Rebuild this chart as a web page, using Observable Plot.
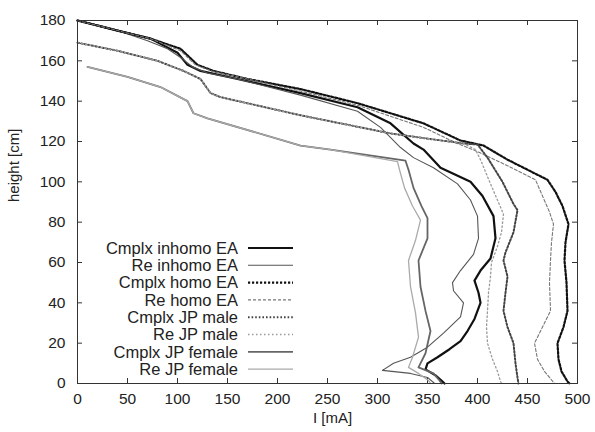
<!DOCTYPE html>
<html><head><meta charset="utf-8">
<script src="https://cdn.jsdelivr.net/npm/d3@7"></script>
<script src="https://cdn.jsdelivr.net/npm/@observablehq/plot@0.6"></script>
<style>body{margin:0;background:#fff} #chart svg{font-family:"Liberation Sans",Arial,sans-serif}</style>
</head><body><div id="chart"></div>
<script>
const xTicks = [0, 50, 100, 150, 200, 250, 300, 350, 400, 450, 500];
const yTicks = [0, 20, 40, 60, 80, 100, 120, 140, 160, 180];
const seriesNames = ["Cmplx inhomo EA", "Re inhomo EA", "Cmplx homo EA", "Re homo EA",
  "Cmplx JP male", "Re JP male", "Cmplx JP female", "Re JP female"];

// [I (mA), height (cm)]
const cmplxInhomoEA = [[0,180],[40,175],[73,171],[100,164],[110,158],[123,155],[160,151],[223,144],[280,137],[313,129],[336,119],[346,116],[363,107],[393,100],[405,93],[416,83],[418,72],[413,62],[403,56],[397,51],[401,45],[403,40],[397,32],[390,26],[383,21],[372,17],[360,13],[350,10],[348,7],[358,4],[365,1],[367,0]];
const reInhomoEA = [[0,180],[40,175],[70,170],[90,166],[105,161],[115,157],[130,154],[160,151],[223,143],[280,135],[303,127],[323,117],[336,112],[356,107],[380,99],[393,91],[400,83],[401,72],[396,64],[383,56],[375,50],[376,46],[386,40],[383,33],[366,25],[350,18],[333,13],[316,10],[305,6.5],[333,5],[350,3],[356,0.5],[357,0]];
const cmplxHomoEA = [[0,180],[40,175],[73,171],[103,166],[120,158],[136,155],[170,151],[223,146],[280,139],[346,129],[383,120.5],[406,118],[430,111],[450,106],[470,101],[478,95],[485,88],[491,79],[488,70],[487,61],[489,50],[490,36],[486,28],[480,20],[481,12],[484,6],[490,1],[492,0]];
const reHomoEA = [[0,180],[40,175],[73,171],[103,165],[118,158],[134,155],[170,151],[223,145],[280,138],[346,127],[380,119],[400,115],[430,108],[458,101],[465,93],[472,85],[476,79],[474,70],[473,61],[472,50],[473,36],[465,28],[457,20],[460,12],[467,6],[477,0]];
const cmplxJPmale = [[0,169],[40,165],[80,160],[106,155],[123,151],[133,144],[143,142],[223,133],[313,124],[386,119],[400,118.5],[410,112],[425,100],[436,89],[440,86],[436,75],[428,65],[426,61],[430,53],[428,45],[426,36],[430,28],[436,20],[438,10],[440,3],[441,0]];
const reJPmale = [[0,169],[40,165],[80,160],[106,155],[123,151],[133,144],[143,142],[223,133],[313,124],[386,119],[398,116],[403,111],[413,99],[426,84],[424,75],[420,68],[414,60],[413,53],[411,45],[410,36],[409,28],[410,20],[415,12],[420,6],[423,1],[424,0]];
const cmplxJPfemale = [[10,157],[50,152],[83,147],[110,140],[116,134],[130,131.5],[223,118],[253,116],[328,110.5],[331,106],[336,97],[344,88],[350,82],[350,72],[341,61],[343,48],[348,36],[353,26],[348,15],[341,8],[356,5],[362,1.5],[364,0]];
const reJPfemale = [[10,157],[50,152],[83,147],[110,140],[116,134],[130,131.5],[223,118],[253,116],[320,110],[322,106],[327,97],[335,88],[343,81],[338,71],[331,61],[333,48],[338,35],[341,23],[335,13],[331,8],[341,5],[351,1.5],[353,0]];

const seriesData = [cmplxInhomoEA, reInhomoEA, cmplxHomoEA, reHomoEA, cmplxJPmale, reJPmale, cmplxJPfemale, reJPfemale];
const styles = [
  {stroke: "#111", strokeWidth: 2.2, strokeDasharray: null},
  {stroke: "#555", strokeWidth: 1.1, strokeDasharray: null},
  {stroke: "#111", strokeWidth: 2.2, strokeDasharray: "2.2,1.8"},
  {stroke: "#777", strokeWidth: 1.1, strokeDasharray: "3,2"},
  {stroke: "#444", strokeWidth: 2, strokeDasharray: "1.6,2"},
  {stroke: "#999", strokeWidth: 1.3, strokeDasharray: "1.5,2.5"},
  {stroke: "#666", strokeWidth: 1.8, strokeDasharray: null},
  {stroke: "#aaa", strokeWidth: 1.3, strokeDasharray: null}
];

const rows = seriesData.flatMap((arr, i) => arr.map(([I, h]) => ({series: seriesNames[i], I, h})));

const lineMarks = seriesNames.map((name, i) =>
  Plot.line(rows.filter(d => d.series === name), {x: "I", y: "h", ...styles[i], strokeLinejoin: "round"})
);

const plot = Plot.plot({
  width: 595, height: 432,
  marginLeft: 77, marginRight: 18, marginTop: 20, marginBottom: 49,
  x: {domain: [0, 500]},
  y: {domain: [0, 180]},
  style: {fontSize: "15.5px", fontFamily: "'Liberation Sans', Arial, sans-serif", color: "#222", background: "#fff"},
  marks: [
    Plot.axisX(xTicks, {tickSize: 0, tickPadding: 9, label: null, fontSize: 15.5}),
    Plot.axisY(yTicks, {tickSize: 0, tickPadding: 12, label: null, fontSize: 15.5}),
    Plot.tickX(xTicks, {x: d => d, insetTop: 358, stroke: "#333"}),
    Plot.tickX(xTicks, {x: d => d, insetBottom: 358, stroke: "#333"}),
    Plot.tickY(yTicks, {y: d => d, insetRight: 495, stroke: "#333"}),
    Plot.tickY(yTicks, {y: d => d, insetLeft: 495, stroke: "#333"}),
    ...lineMarks,
    Plot.frame({stroke: "#333"}),
    Plot.text(["I [mA]"], {frameAnchor: "bottom", dx: 5, dy: 39, fontSize: 15, fill: "#222"}),
    Plot.text(["height [cm]"], {frameAnchor: "left", dx: -63, rotate: -90, fontSize: 15, fill: "#222"})
  ]
});

// legend inside the plot area
const svg = d3.select(plot);
const lg = svg.append("g").attr("class", "legend");
const textRight = 238, sx1 = 248, sx2 = 293, y0 = 248, step = 17.3;
seriesNames.forEach((name, i) => {
  const yy = y0 + i * step;
  lg.append("text").attr("x", textRight).attr("y", yy).attr("dy", "0.35em")
    .attr("text-anchor", "end").attr("font-size", 16.5).attr("fill", "#222").text(name);
  lg.append("line").attr("x1", sx1).attr("x2", sx2).attr("y1", yy).attr("y2", yy)
    .attr("stroke", styles[i].stroke).attr("stroke-width", styles[i].strokeWidth)
    .attr("stroke-dasharray", styles[i].strokeDasharray);
});

document.getElementById("chart").appendChild(plot);
</script>
</body></html>
